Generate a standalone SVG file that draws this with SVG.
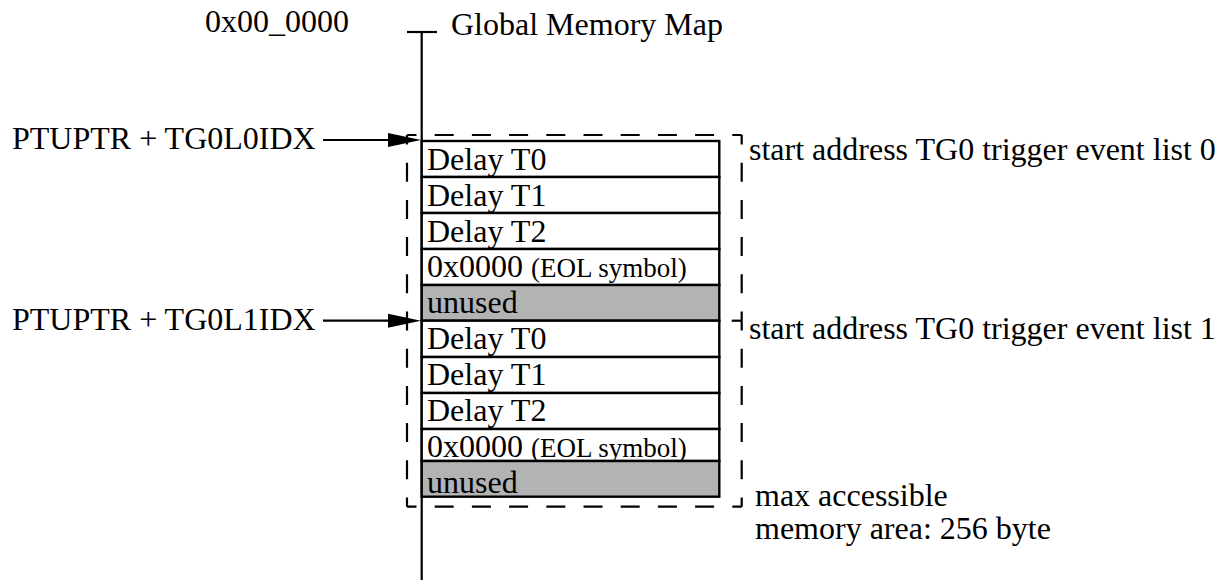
<svg xmlns="http://www.w3.org/2000/svg" width="1225" height="582" viewBox="0 0 1225 582">
<style>
text { font-family: "Liberation Serif", "Times New Roman", serif; font-size: 32px; fill: #000; }
.small { font-size: 27px; }
.cell { fill: #fff; stroke: #000; stroke-width: 2.4; }
.gray { fill: #b3b3b3; stroke: #000; stroke-width: 2.4; }
.line { stroke: #000; stroke-width: 2.2; fill: none; }
.dash { stroke: #000; stroke-width: 2.2; fill: none; stroke-dasharray: 19 18.2; stroke-dashoffset: 9.5; }
.head { fill: #000; }
</style>
<rect width="1225" height="582" fill="#fff"/>

<g id="memory-map-axis">
<line class="line" x1="421.7" y1="32" x2="421.7" y2="580"/>
<line class="line" x1="407" y1="32" x2="437" y2="32"/>
<text x="205" y="32">0x00_0000</text>
<text x="451" y="35">Global Memory Map</text>
</g>

<g id="access-area">
<line class="dash" x1="407" y1="135" x2="741.7" y2="135"/>
<line class="dash" x1="407" y1="506.7" x2="741.7" y2="506.7"/>
<line class="dash" x1="407" y1="135" x2="407" y2="506.7"/>
<line class="dash" x1="741.7" y1="135" x2="741.7" y2="506.7"/>
<line class="line" x1="731.7" y1="320.7" x2="741.7" y2="320.7"/>
<text x="755" y="506">max accessible</text>
<text x="755" y="539">memory area: 256 byte</text>
</g>

<g id="list0">
<rect class="cell" x="421.7" y="141" width="297.6" height="36"/>
<text x="427" y="170">Delay T0</text>
<rect class="cell" x="421.7" y="177" width="297.6" height="36"/>
<text x="427" y="206">Delay T1</text>
<rect class="cell" x="421.7" y="213" width="297.6" height="36"/>
<text x="427" y="242">Delay T2</text>
<rect class="cell" x="421.7" y="249" width="297.6" height="36"/>
<text x="427" y="277">0x0000 <tspan class="small">(EOL symbol)</tspan></text>
<rect class="gray" x="421.7" y="285" width="297.6" height="35.7"/>
<text x="427" y="313">unused</text>
<text x="749" y="160">start address TG0 trigger event list 0</text>
</g>

<g id="list1">
<rect class="cell" x="421.7" y="320.7" width="297.6" height="36.3"/>
<text x="427" y="349">Delay T0</text>
<rect class="cell" x="421.7" y="357" width="297.6" height="36"/>
<text x="427" y="385">Delay T1</text>
<rect class="cell" x="421.7" y="393" width="297.6" height="36"/>
<text x="427" y="421">Delay T2</text>
<rect class="cell" x="421.7" y="429" width="297.6" height="32"/>
<text x="427" y="457">0x0000 <tspan class="small">(EOL symbol)</tspan></text>
<rect class="gray" x="421.7" y="461" width="297.6" height="35.7"/>
<text x="427" y="493">unused</text>
<text x="749" y="339">start address TG0 trigger event list 1</text>
</g>

<g id="ptr0">
<text x="12" y="149">PTUPTR + TG0L0IDX</text>
</g>
<g id="ptr1">
<text x="12" y="330">PTUPTR + TG0L1IDX</text>
</g>

<g id="connectors">
<line class="line" x1="323" y1="140" x2="392" y2="140"/>
<polygon class="head" points="388,133 421,140 388,147"/>
<line class="line" x1="323" y1="320.7" x2="392" y2="320.7"/>
<polygon class="head" points="388,313.7 421,320.7 388,327.7"/>
</g>
</svg>
